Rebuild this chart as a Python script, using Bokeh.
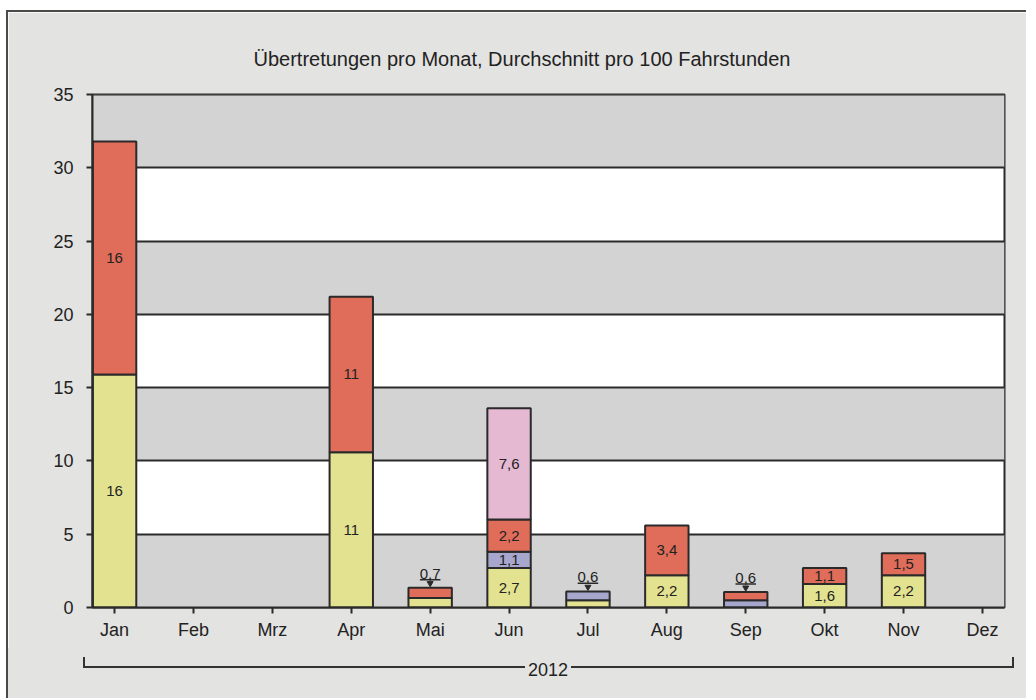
from bokeh.plotting import figure
from bokeh.layouts import column
from bokeh.models import Range1d, FixedTicker, Div
from bokeh.core.properties import value
from bokeh.embed import file_html
from bokeh.resources import INLINE

# ---------------- data ----------------
months = ["Jan", "Feb", "Mrz", "Apr", "Mai", "Jun", "Jul", "Aug", "Sep", "Okt", "Nov", "Dez"]
series_names = ["gelb", "blau", "rot", "rosa"]          # stack order bottom -> top
gelb = [15.9, 0, 0, 10.6, 0.65, 2.7, 0.5, 2.2, 0.0, 1.6, 2.2, 0]
blau = [0, 0, 0, 0, 0, 1.1, 0.6, 0, 0.5, 0, 0, 0]
rot = [15.9, 0, 0, 10.6, 0.7, 2.2, 0, 3.4, 0.55, 1.1, 1.5, 0]
rosa = [0, 0, 0, 0, 0, 7.6, 0, 0, 0, 0, 0, 0]
year_label = "2012"
y_ticks = [0, 5, 10, 15, 20, 25, 30, 35]
title_text = "Übertretungen pro Monat, Durchschnitt pro 100 Fahrstunden"

series = [gelb, blau, rot, rosa]
colors = ["#e2e290", "#a7a7cd", "#e06d5a", "#e6b9d3"]

FONT = value("Liberation Sans")
PANEL = "#e3e3e1"
DARK = "#2a2a2a"


def fmt(v):
    if v >= 10:
        return f"{v:.0f}"
    return f"{v:.1f}".replace(".", ",")


x = list(range(len(months)))
x0, x1 = -0.28, len(months) - 1 + 0.28

W = 1018
H1 = 636
H2 = 50
MBL, MBR, MBT, MBB = 84, 22, 82, 41

p = figure(width=W, height=H1, output_backend="svg", toolbar_location=None,
           x_range=Range1d(x0, x1), y_range=Range1d(0, 35),
           min_border_left=MBL, min_border_right=MBR,
           min_border_top=MBT, min_border_bottom=MBB,
           background_fill_color="white", border_fill_color=PANEL,
           outline_line_color=DARK, outline_line_width=2)

p.title.text = title_text
p.title.text_font = "Liberation Sans"
p.title.text_font_size = "20px"
p.title.text_font_style = "normal"
p.title.text_color = "#222222"
p.title.align = "left"
p.title.offset = 161
p.title.standoff = 50

p.xgrid.visible = False
p.ygrid.visible = False

# alternating bands
for i in range(0, len(y_ticks) - 1, 2):
    p.hstrip(y0=[y_ticks[i]], y1=[y_ticks[i + 1]], fill_color="#d3d3d3", line_color=None)
p.hspan(y=y_ticks[1:], line_color=DARK, line_width=2)

# stacked segments
segs = {"l": [], "r": [], "b": [], "t": [], "c": []}
labels_in = {"x": [], "y": [], "t": []}
labels_out = {"x": [], "y": [], "t": []}
for i in x:
    base = 0.0
    top_seg = None
    for s, col in zip(series, colors):
        v = s[i]
        if v <= 0:
            continue
        segs["l"].append(i - 0.275)
        segs["r"].append(i + 0.275)
        segs["b"].append(base)
        segs["t"].append(base + v)
        segs["c"].append(col)
        if v >= 0.9:
            labels_in["x"].append(i)
            labels_in["y"].append(base + v / 2)
            labels_in["t"].append(fmt(v))
        top_seg = (v, base + v)
        base += v
    if top_seg is not None and top_seg[0] < 0.9:
        labels_out["x"].append(i)
        labels_out["y"].append(top_seg[1])
        labels_out["t"].append(fmt(top_seg[0]))

p.quad(left=segs["l"], right=segs["r"], bottom=segs["b"], top=segs["t"],
       fill_color=segs["c"], line_color=DARK, line_width=2)

p.text(x=labels_in["x"], y=labels_in["y"], text=labels_in["t"],
       text_align="center", text_baseline="middle", text_font=FONT,
       text_font_size="15px", text_color="#222222")

# small values: label above with pointer
ly = labels_out["y"]
p.scatter(x=labels_out["x"], y=[v + 0.3 for v in ly], marker="inverted_triangle",
          size=6, fill_color=DARK, line_color=DARK)
p.segment(x0=[v - 0.13 for v in labels_out["x"]], x1=[v + 0.13 for v in labels_out["x"]],
          y0=[v + 0.55 for v in ly], y1=[v + 0.55 for v in ly], line_color=DARK, line_width=1.5)
p.text(x=labels_out["x"], y=[v + 0.62 for v in ly], text=labels_out["t"],
       text_align="center", text_baseline="bottom", text_font=FONT,
       text_font_size="15px", text_color="#222222")

# axes
p.yaxis.ticker = FixedTicker(ticks=y_ticks)
p.xaxis.ticker = FixedTicker(ticks=x)
p.xaxis.major_label_overrides = {i: m for i, m in enumerate(months)}
for ax in (p.xaxis[0], p.yaxis[0]):
    ax.axis_line_color = DARK
    ax.axis_line_width = 2
    ax.major_tick_line_color = DARK
    ax.major_tick_line_width = 2
    ax.major_tick_out = 6
    ax.major_tick_in = 0
    ax.minor_tick_line_color = None
    ax.major_label_text_font = "Liberation Sans"
    ax.major_label_text_font_size = "18px"
    ax.major_label_text_color = "#222222"
p.yaxis.major_label_standoff = 13
p.xaxis.major_label_standoff = 6

# ---------------- year bracket (HTML) ----------------
ppu = (W - MBL - MBR) / (x1 - x0)


def px(v):
    return MBL + (v - x0) * ppu


left_end = px(x[0] - 0.4)
right_end = px(x[-1] + 0.4)
mid = px((x[0] + x[-1]) / 2)
line_y = 21
html = (
    f'<div style="position:relative;width:{W}px;height:{H2}px;background:{PANEL};'
    f'font-family:\'Liberation Sans\';font-size:18px;color:#222;">'
    f'<div style="position:absolute;left:{left_end:.0f}px;top:{line_y - 12}px;'
    f'width:{right_end - left_end:.0f}px;height:11px;border:2px solid #333;border-top:none;"></div>'
    f'<div style="position:absolute;left:{mid - 30:.0f}px;width:60px;top:{line_y - 9}px;'
    f'text-align:center;line-height:20px;"><span style="background:{PANEL};padding:0 3px;">'
    f'{year_label}</span></div>'
    f'</div>'
)
d = Div(text=html, width=W, height=H2, margin=0, styles={"background": PANEL})

layout = column(p, d, spacing=0,
                styles={"border-top": "2px solid #4a4a4a", "border-left": "2px solid #4a4a4a",
                        "margin-left": "6px", "margin-top": "10px"})

open("out.html", "w").write(file_html(layout, INLINE))
